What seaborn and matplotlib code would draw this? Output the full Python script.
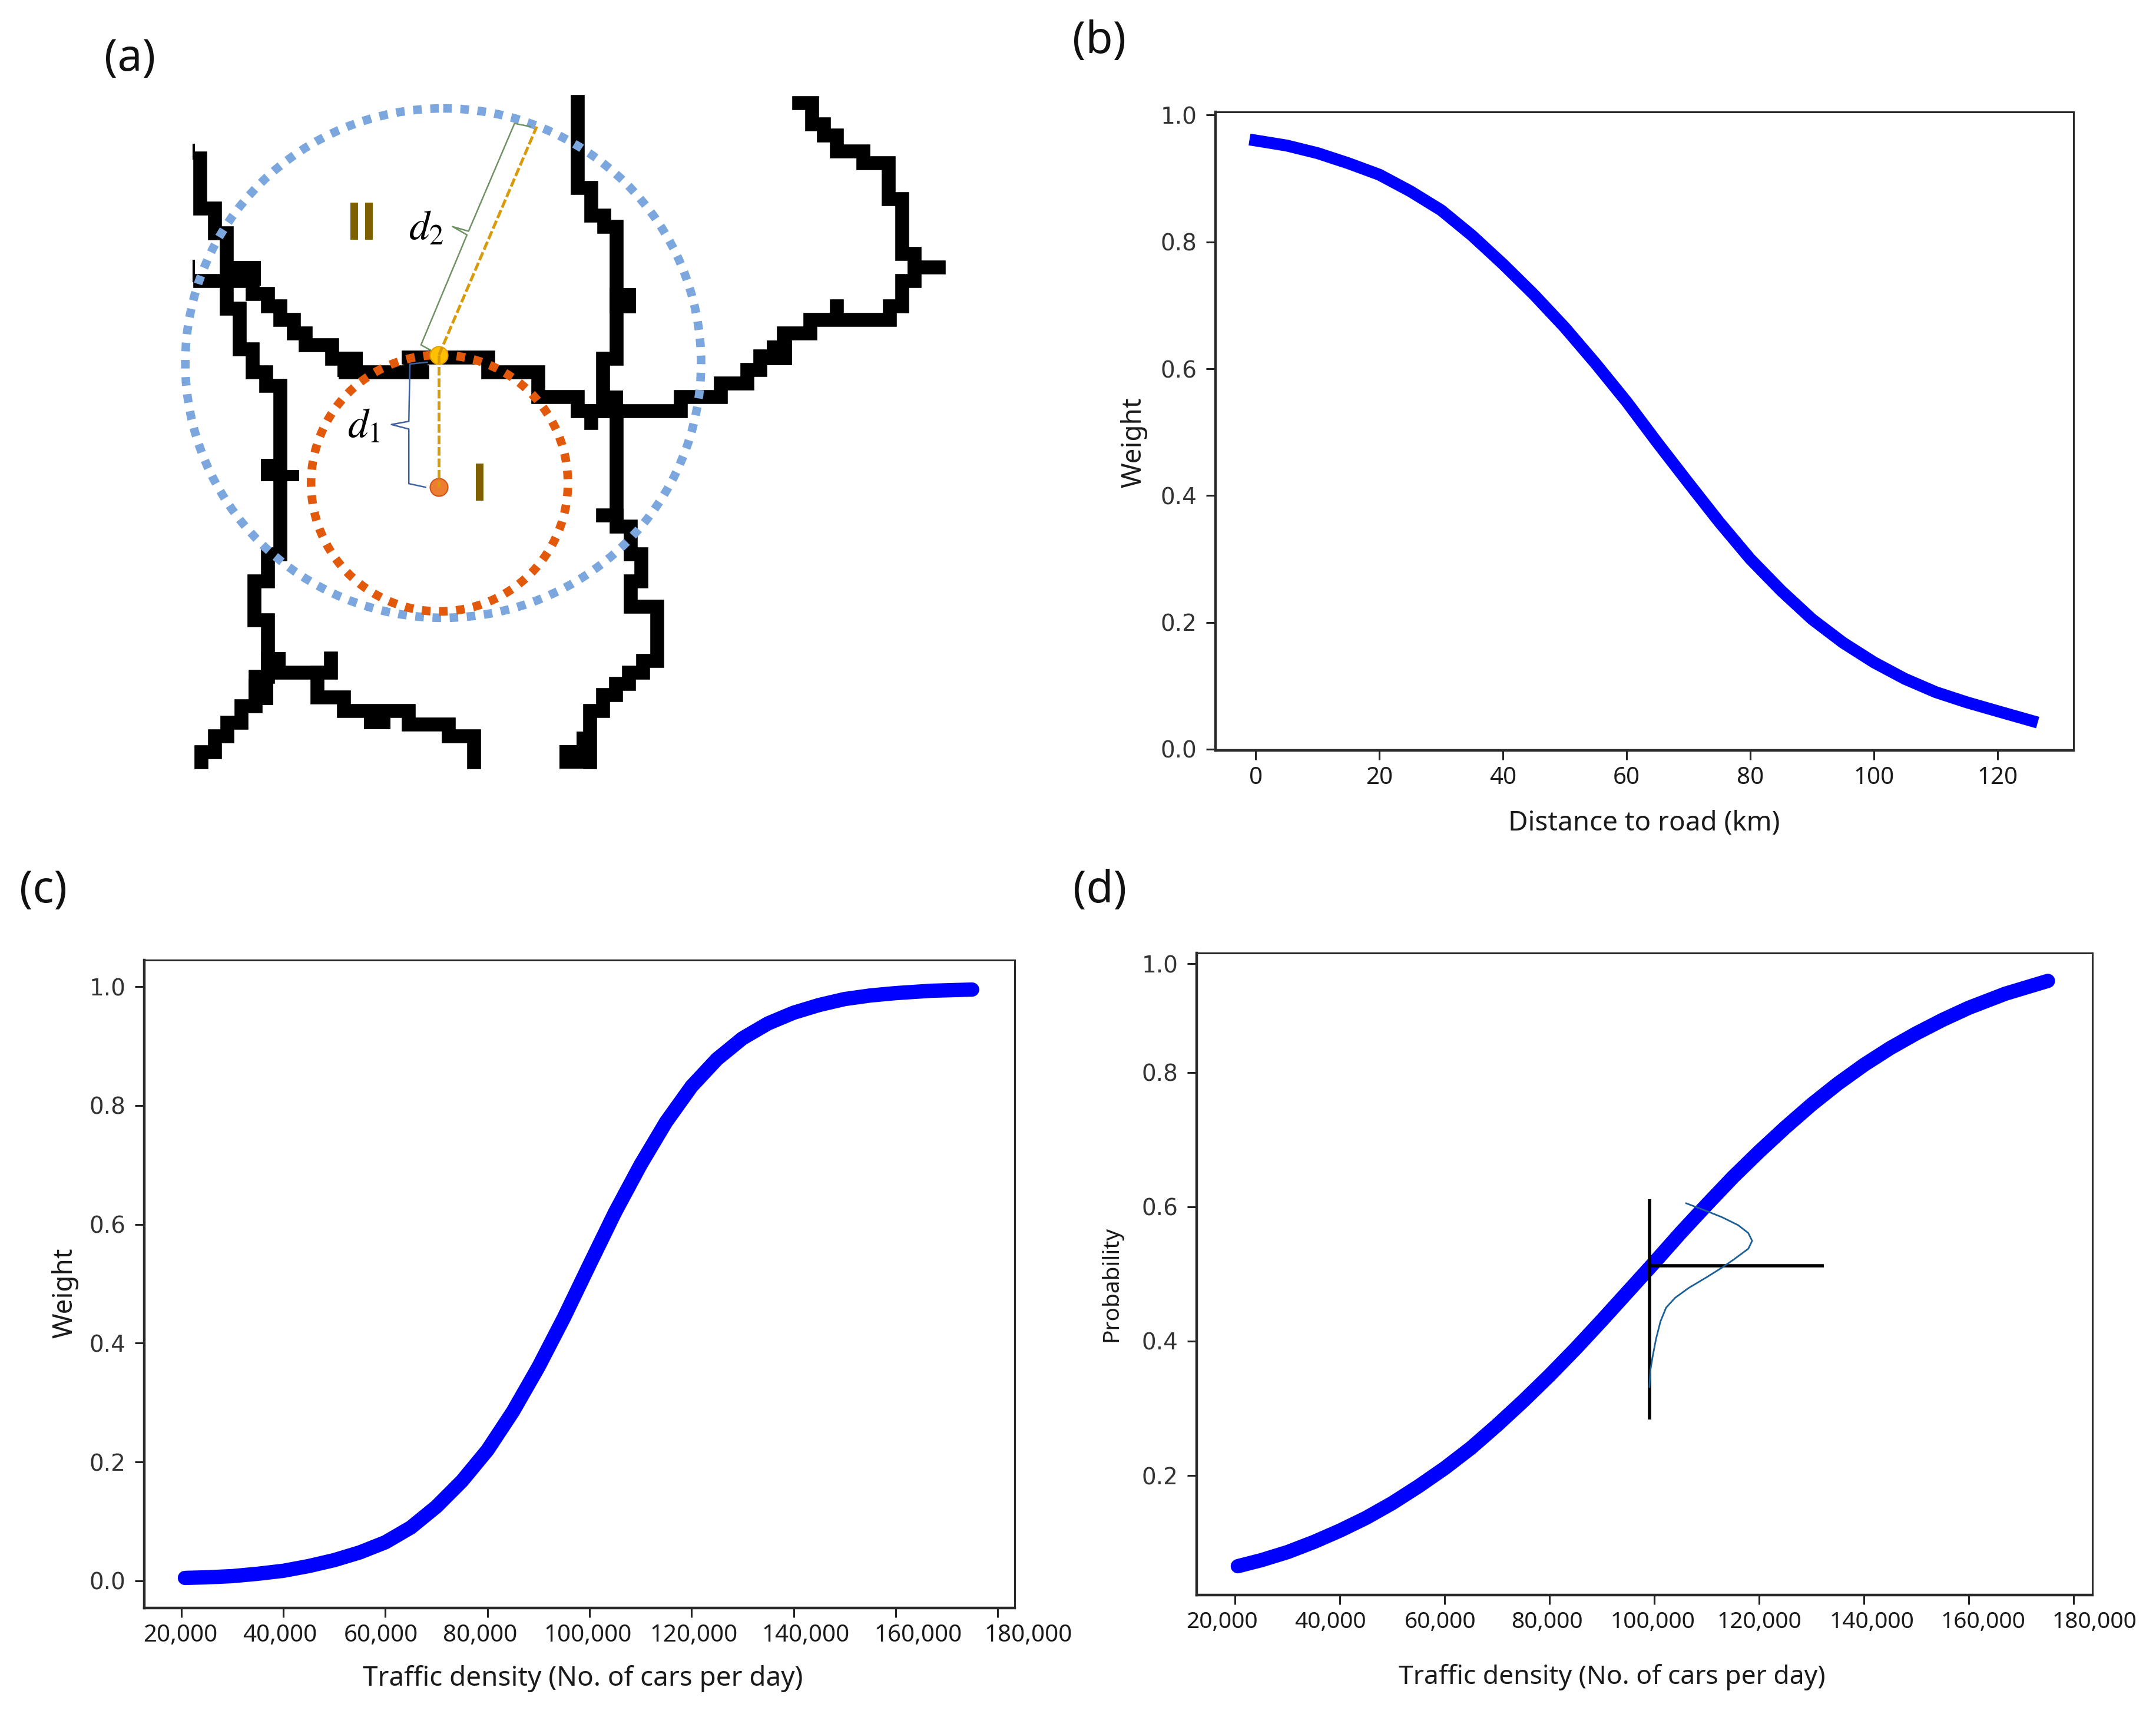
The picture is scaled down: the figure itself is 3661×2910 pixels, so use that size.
import matplotlib
matplotlib.use("Agg")
import matplotlib.pyplot as plt
from matplotlib.patches import Ellipse
from matplotlib.transforms import Affine2D
import seaborn as sns

W, H = 3662, 2910

# panel (b)
dist_km = [-1, 5, 10, 15, 20, 25, 30, 35, 40, 45, 50, 55, 60, 65, 70, 75, 80, 85, 90, 95, 100, 105, 110, 115, 120, 126.5]
dist_weight = [0.9615, 0.952, 0.94, 0.924, 0.906, 0.88, 0.85, 0.81, 0.765, 0.717, 0.665, 0.608, 0.548, 0.483,
               0.42, 0.358, 0.30, 0.25, 0.205, 0.168, 0.137, 0.111, 0.09, 0.074, 0.06, 0.042]

# panel (c)
traffic_c = [20700, 25000, 30000, 35000, 40000, 45000, 50000, 55000, 60000, 65000, 70000, 75000, 80000, 85000,
             90000, 95000, 100000, 105000, 110000, 115000, 120000, 125000, 130000, 135000, 140000, 145000,
             150000, 155000, 160000, 167000, 175000]
weight_c = [0.005, 0.006, 0.008, 0.012, 0.017, 0.025, 0.035, 0.048, 0.065, 0.09, 0.125, 0.168, 0.22, 0.285,
            0.36, 0.443, 0.532, 0.62, 0.70, 0.772, 0.832, 0.878, 0.913, 0.938, 0.956, 0.969,
            0.979, 0.985, 0.989, 0.993, 0.995]

# panel (d)
traffic_d = [20500, 25000, 30000, 35000, 40000, 45000, 50000, 55000, 60000, 65000, 70000, 75000, 80000, 85000,
             90000, 95000, 100000, 105000, 110000, 115000, 120000, 125000, 130000, 135000, 140000, 145000,
             150000, 155000, 160000, 167000, 175100]
prob_d = [0.065, 0.074, 0.086, 0.101, 0.118, 0.137, 0.159, 0.184, 0.211, 0.241, 0.275, 0.311, 0.349, 0.389,
          0.431, 0.474, 0.517, 0.561, 0.603, 0.644, 0.682, 0.718, 0.752, 0.783, 0.811, 0.836,
          0.858, 0.878, 0.896, 0.917, 0.936]

# small normal curve and cross in panel (d)
normal_x = [106018, 109972, 112980, 115987, 117920, 118650, 117920, 115128, 112980, 109972, 106534,
            103955, 102237, 101163, 100303, 99659, 99229, 99057]
normal_y = [0.6052, 0.5935, 0.5841, 0.5725, 0.5608, 0.5491, 0.5374, 0.5213, 0.5097, 0.4950, 0.4790,
            0.4644, 0.4498, 0.4293, 0.4030, 0.3767, 0.3563, 0.3314]
cross_v_x = [99057, 99057]
cross_v_y = [0.2832, 0.6110]
cross_h_x = [99057, 132316]
cross_h_y = [0.5120, 0.5120]

traffic_ticks = [20000, 40000, 60000, 80000, 100000, 120000, 140000, 160000, 180000]
traffic_labels = ["20,000", "40,000", "60,000", "80,000", "100,000", "120,000", "140,000", "160,000", "180,000"]
# the x labels do not sit under their ticks in the source figure
shift_c = [-2, -6, -8, -13, -3, 4, 21, 38, 52]
shift_d = [-23, -16, -8, -4, -3, 0, 13, 24, 35]

# the 1.0 tick of panel (d) is squeezed in below its true place
prob_ticks = [0.2, 0.4, 0.6, 0.8, 0.9613]
prob_labels = ["0.2", "0.4", "0.6", "0.8", "1.0"]

# panel (a), road map, traced as centre lines
road_west = [(100, 180), (100, 290), (128, 290), (128, 345), (150, 345), (150, 510), (175, 510), (175, 600),
             (200, 600), (200, 650), (225, 650), (225, 680), (252, 680), (252, 1050), (228, 1050), (228, 1110),
             (203, 1110), (203, 1195), (228, 1195), (228, 1320), (205, 1320), (205, 1385), (178, 1385),
             (178, 1420), (152, 1420), (152, 1450), (128, 1450), (128, 1485), (103, 1485), (103, 1508)]
road_main = [(100, 450), (200, 450), (200, 478), (228, 478), (228, 505), (252, 505), (252, 535), (277, 535),
             (277, 565), (300, 565), (300, 590), (350, 590), (350, 620), (375, 620), (375, 650), (520, 650)]
road_main2 = [(495, 618), (645, 618), (645, 650), (740, 650), (740, 705), (815, 705), (815, 735), (1010, 735),
              (1010, 705), (1085, 705), (1085, 675), (1135, 675), (1135, 645), (1160, 645), (1160, 615),
              (1205, 615), (1205, 565), (1255, 565), (1255, 535), (1405, 535), (1405, 505), (1428, 505),
              (1428, 450), (1452, 450), (1452, 420), (1498, 420)]
road_ne = [(1452, 420), (1452, 390), (1428, 390), (1428, 270), (1403, 270), (1403, 190), (1355, 190),
           (1355, 165), (1305, 165), (1305, 130), (1280, 130), (1280, 105), (1258, 105), (1258, 58), (1234, 58)]
road_center = [(815, 56), (815, 245), (840, 245), (840, 305), (865, 305), (865, 330), (888, 330), (888, 620),
               (862, 620), (862, 735), (888, 735), (888, 990), (915, 990), (915, 1050), (935, 1050),
               (935, 1110), (915, 1110), (915, 1165), (965, 1165), (965, 1285), (938, 1285), (938, 1310),
               (912, 1310), (912, 1335), (887, 1335), (887, 1360), (862, 1360), (862, 1395), (838, 1395),
               (838, 1508)]
road_south = [(228, 1310), (348, 1310), (348, 1280)]
road_south2 = [(322, 1310), (322, 1365), (372, 1365), (372, 1395), (495, 1395), (495, 1425), (570, 1425),
               (570, 1450), (618, 1450), (618, 1508)]
road_stubs = [[(840, 735), (840, 762)], [(862, 965), (888, 965)], [(1305, 505), (1305, 525)]]
road_thin = [[(88, 150), (88, 180)], [(88, 405), (88, 450)]]
# solid cells where roads touch: left, right, top, bottom
road_blocks = [(780, 850, 1470, 1522), (812, 850, 1440, 1470), (410, 460, 1395, 1435), (192, 238, 1325, 1382),
               (215, 262, 840, 890), (262, 287, 865, 890), (140, 215, 405, 460), (215, 262, 1265, 1310),
               (1172, 1220, 580, 635), (360, 408, 605, 660), (485, 530, 605, 660), (875, 925, 465, 520),
               (850, 900, 690, 750)]

blue_circle = (560, 630, 488, 560)
orange_circle = (553, 894, 243, 282)

yellow_point = (552, 612)
orange_point = (552, 902)
dash_up_x = [552, 737]
dash_up_y = [612, 110]
dash_down_x = [552, 552]
dash_down_y = [612, 902]

green_brace_x = [725, 695, 608, 578, 605, 518, 540]
green_brace_y = [110, 103, 340, 330, 348, 590, 604]
blue_brace_x = [530, 497, 495, 462, 495, 495, 527]
blue_brace_y = [628, 632, 758, 765, 775, 895, 903]

sns.set_style("ticks")
plt.rcParams["font.family"] = ["Noto Sans", "DejaVu Sans"]
plt.rcParams["mathtext.fontset"] = "stix"

fig = plt.figure(figsize=(W / 100, H / 100), dpi=100, facecolor="white")
px = Affine2D().scale(1, -1).translate(0, H)


def add_axes_px(left, top, right, bottom):
    return fig.add_axes([left / W, 1 - bottom / H, (right - left) / W, (bottom - top) / H])


def style_panel(ax, xlim, ylim, xticks, xlabels, yticks, ylabels, xsize, shift=None):
    ax.set_xlim(xlim)
    ax.set_ylim(ylim)
    ax.set_xticks(xticks)
    ax.set_xticklabels(xlabels, fontsize=xsize, color="#1a1a1a")
    ax.set_yticks(yticks)
    ax.set_yticklabels(ylabels, fontsize=28, color="#333333", family="DejaVu Sans")
    ax.tick_params(axis="both", length=11.5, width=2.2, color="#222222")
    ax.tick_params(axis="x", pad=8)
    ax.tick_params(axis="y", pad=11)
    for side, spine in ax.spines.items():
        spine.set_visible(True)
        spine.set_color("#2a2a2a")
        spine.set_linewidth(3.2 if side in ("left", "bottom") else 2.2)
    if shift is not None:
        for lab, dx in zip(ax.get_xticklabels(), shift):
            lab.set_transform(lab.get_transform() + Affine2D().translate(dx, 0))


# panel (b)
ax_b = add_axes_px(2064, 190, 3521, 1274)
sns.lineplot(x=dist_km, y=dist_weight, ax=ax_b, color="#0000ff", linewidth=14.5, solid_capstyle="butt")
style_panel(ax_b, (-6.5, 132.3), (-0.0019, 1.005), [0, 20, 40, 60, 80, 100, 120],
            ["0", "20", "40", "60", "80", "100", "120"],
            [0, 0.2, 0.4, 0.6, 0.8, 1.0], ["0.0", "0.2", "0.4", "0.6", "0.8", "1.0"], 29)
ax_b.set_xlabel("Distance to road (km)", fontsize=33, va="center", color="#1a1a1a")
ax_b.xaxis.set_label_coords(2792, 1398, transform=px)
ax_b.set_ylabel("Weight", fontsize=33, va="center", color="#1a1a1a")
ax_b.yaxis.set_label_coords(1925, 751, transform=px)

# panel (c)
ax_c = add_axes_px(245, 1630, 1723, 2730)
sns.lineplot(x=traffic_c, y=weight_c, ax=ax_c, color="#0000ff", linewidth=17.5, solid_capstyle="round")
style_panel(ax_c, (12734, 183345), (-0.0456, 1.0446), traffic_ticks, traffic_labels,
            [0, 0.2, 0.4, 0.6, 0.8, 1.0], ["0.0", "0.2", "0.4", "0.6", "0.8", "1.0"], 29, shift_c)
ax_c.set_xlabel("Traffic density (No. of cars per day)", fontsize=33, va="center", color="#1a1a1a")
ax_c.xaxis.set_label_coords(990, 2850, transform=px)
ax_c.set_ylabel("Weight", fontsize=33, va="center", color="#1a1a1a")
ax_c.yaxis.set_label_coords(110, 2195, transform=px)

# panel (d)
ax_d = add_axes_px(2032, 1618, 3553, 2708)
sns.lineplot(x=traffic_d, y=prob_d, ax=ax_d, color="#0000ff", linewidth=17.5, solid_capstyle="round")
sns.lineplot(x=cross_v_x, y=cross_v_y, ax=ax_d, color="black", linewidth=4, sort=False, estimator=None,
             solid_capstyle="butt")
sns.lineplot(x=cross_h_x, y=cross_h_y, ax=ax_d, color="black", linewidth=4, sort=False, estimator=None,
             solid_capstyle="butt")
sns.lineplot(x=normal_x, y=normal_y, ax=ax_d, color="#1c5f96", linewidth=2, sort=False, estimator=None)
style_panel(ax_d, (12645, 183590), (0.0221, 0.9775), traffic_ticks, traffic_labels,
            prob_ticks, prob_labels, 28, shift_d)
ax_d.set_xlabel("Traffic density (No. of cars per day)", fontsize=32, va="center", color="#1a1a1a")
ax_d.xaxis.set_label_coords(2737, 2847, transform=px)
ax_d.set_ylabel("Probability", fontsize=28, va="center", color="#1a1a1a")
ax_d.yaxis.set_label_coords(1887, 2180, transform=px)

# panel (a), map coordinates follow the trace of the road picture
ax_a = add_axes_px(250, 130, 1650, 1330)
ax_a.set_xlim(0, 1560)
ax_a.set_ylim(1554, 0)
ax_a.axis("off")


def road(points, lw=17):
    sns.lineplot(x=[p[0] for p in points], y=[p[1] for p in points], ax=ax_a, color="black", linewidth=lw,
                 sort=False, estimator=None, solid_capstyle="projecting", solid_joinstyle="miter")


for path in [road_west, road_main, road_main2, road_ne, road_center, road_south, road_south2]:
    road(path)
for path in road_stubs:
    road(path)
for path in road_thin:
    road(path, lw=3)
for x0, x1, y0, y1 in road_blocks:
    ax_a.fill_between([x0, x1], y0, y1, color="black", linewidth=0)

for (cx, cy, rx, ry), col in [(blue_circle, "#7ba7de"), (orange_circle, "#e2590c")]:
    ax_a.add_patch(Ellipse((cx, cy), 2 * rx, 2 * ry, fill=False, edgecolor=col, linewidth=10.5,
                           linestyle=(0, (1, 1)), capstyle="butt", zorder=4))

sns.lineplot(x=green_brace_x, y=green_brace_y, ax=ax_a, color="#6f9163", linewidth=1.8, sort=False,
             estimator=None, zorder=5)
sns.lineplot(x=blue_brace_x, y=blue_brace_y, ax=ax_a, color="#3f62a5", linewidth=1.8, sort=False,
             estimator=None, zorder=5)

ax_a.scatter(*yellow_point, s=470, color="#ffc000", edgecolor="#e0a000", linewidth=1.5, zorder=6)
ax_a.scatter(*orange_point, s=470, color="#ed7d31", edgecolor="#d0541a", linewidth=1.5, zorder=6)
for xs, ys in [(dash_up_x, dash_up_y), (dash_down_x, dash_down_y)]:
    sns.lineplot(x=xs, y=ys, ax=ax_a, color="#d99a0a", linewidth=3.5, sort=False, estimator=None,
                 linestyle=(0, (3, 1)), zorder=7)

ax_a.text(406, 328, "II", fontsize=65, fontweight="bold", family="Liberation Sans", color="#7f6000",
          ha="center", va="center", zorder=8)
ax_a.text(629, 902, "I", fontsize=65, fontweight="bold", family="Liberation Sans", color="#7f6000",
          ha="center", va="center", zorder=8)
ax_a.text(528, 335, r"$d_2$", fontsize=50, color="black", ha="center", va="center", zorder=8)
ax_a.text(410, 770, r"$d_1$", fontsize=50, color="black", ha="center", va="center", zorder=8)

# panel letters
for letter, x, y in [("(a)", 221, 100), ("(b)", 1867, 70), ("(c)", 73, 1513), ("(d)", 1868, 1513)]:
    fig.text(x, y, letter, transform=px, fontsize=54, ha="center", va="center", color="#111111")

fig.savefig("out.png", dpi=100, facecolor="white")
